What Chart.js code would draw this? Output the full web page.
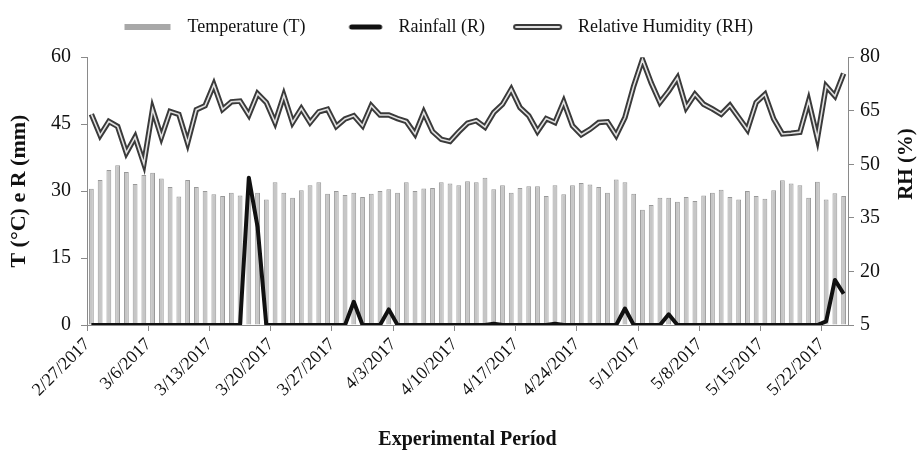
<!DOCTYPE html>
<html>
<head>
<meta charset="utf-8">
<script src="https://cdn.jsdelivr.net/npm/chart.js@4.4.0/dist/chart.umd.min.js"></script>
<style>
    html, body { margin: 0; padding: 0; background: #fff; }
    #wrap { width: 924px; height: 454px; }
</style>
</head>
<body>
<div id="wrap"><canvas id="climateChart" width="924" height="454"></canvas></div>
<script>
// daily categories, 2/27/2017 .. 5/24/2017
const dates = [
    '2/27/2017', '2/28/2017',
    '3/1/2017', '3/2/2017', '3/3/2017', '3/4/2017', '3/5/2017', '3/6/2017', '3/7/2017', '3/8/2017',
    '3/9/2017', '3/10/2017', '3/11/2017', '3/12/2017', '3/13/2017', '3/14/2017', '3/15/2017', '3/16/2017',
    '3/17/2017', '3/18/2017', '3/19/2017', '3/20/2017', '3/21/2017', '3/22/2017', '3/23/2017', '3/24/2017',
    '3/25/2017', '3/26/2017', '3/27/2017', '3/28/2017', '3/29/2017', '3/30/2017', '3/31/2017',
    '4/1/2017', '4/2/2017', '4/3/2017', '4/4/2017', '4/5/2017', '4/6/2017', '4/7/2017', '4/8/2017',
    '4/9/2017', '4/10/2017', '4/11/2017', '4/12/2017', '4/13/2017', '4/14/2017', '4/15/2017', '4/16/2017',
    '4/17/2017', '4/18/2017', '4/19/2017', '4/20/2017', '4/21/2017', '4/22/2017', '4/23/2017', '4/24/2017',
    '4/25/2017', '4/26/2017', '4/27/2017', '4/28/2017', '4/29/2017', '4/30/2017',
    '5/1/2017', '5/2/2017', '5/3/2017', '5/4/2017', '5/5/2017', '5/6/2017', '5/7/2017', '5/8/2017',
    '5/9/2017', '5/10/2017', '5/11/2017', '5/12/2017', '5/13/2017', '5/14/2017', '5/15/2017', '5/16/2017',
    '5/17/2017', '5/18/2017', '5/19/2017', '5/20/2017', '5/21/2017', '5/22/2017', '5/23/2017', '5/24/2017'
];

const temperature = [
    30.5, 32.5, 34.7, 35.8, 34.3, 31.6, 33.6, 34.1, 32.8, 30.9, 28.8, 32.5, 30.9, 30.0, 29.3,
    28.9, 29.6, 29.0, 29.3, 29.6, 28.1, 32.0, 29.6, 28.5, 30.2, 31.3, 32.0, 29.4, 30.0, 29.1,
    29.6, 28.7, 29.4, 30.0, 30.4, 29.6, 32.0, 30.0, 30.6, 30.7, 32.0, 31.7, 31.3, 32.2, 32.0,
    33.0, 30.4, 31.3, 29.6, 30.7, 31.1, 31.1, 28.9, 31.3, 29.3, 31.3, 31.8, 31.5, 30.9, 29.6,
    32.6, 32.0, 29.4, 25.8, 26.9, 28.5, 28.5, 27.6, 28.7, 27.8, 29.0, 29.6, 30.3, 28.7, 28.1,
    30.0, 28.9, 28.3, 30.2, 32.4, 31.7, 31.3, 28.5, 32.1, 28.1, 29.5, 28.9
];

const rainfall = [
    0, 0, 0, 0, 0, 0, 0, 0, 0, 0, 0, 0, 0, 0, 0,
    0, 0, 0, 33, 22, 0, 0, 0, 0, 0, 0, 0, 0, 0, 0,
    5.2, 0, 0, 0, 3.5, 0, 0, 0, 0, 0, 0, 0, 0, 0, 0,
    0, 0.3, 0, 0, 0, 0, 0, 0, 0.3, 0, 0, 0, 0, 0, 0,
    0, 3.7, 0, 0, 0, 0, 2.4, 0, 0, 0, 0, 0, 0, 0, 0,
    0, 0, 0, 0, 0, 0, 0, 0, 0, 0.8, 10.1, 7.0
];

const humidity = [
    64.0, 58.1, 62.0, 60.6, 53.2, 57.6, 50.2, 65.4, 57.6, 64.8, 64.0, 56.0, 65.3, 66.4, 72.3,
    65.4, 67.5, 67.7, 63.8, 69.8, 67.3, 61.7, 69.3, 61.7, 65.6, 61.7, 64.7, 65.4, 60.6, 62.7,
    63.6, 60.8, 66.4, 63.8, 63.8, 62.8, 62.0, 58.5, 64.5, 59.2, 57.0, 56.4, 59.1, 61.5, 62.2,
    60.4, 64.5, 66.8, 71.0, 65.9, 63.6, 59.2, 62.8, 61.7, 67.5, 60.8, 58.3, 59.8, 61.7, 61.9,
    58.1, 63.1, 71.9, 79.3, 72.8, 67.3, 70.5, 74.2, 65.9, 69.6, 66.8, 65.5, 64.0, 66.5, 63.1,
    59.7, 67.3, 69.6, 62.7, 58.5, 58.7, 59.0, 67.7, 57.3, 71.9, 69.1, 75.4
];

const leftTicks = [0, 15, 30, 45, 60];
const rightTicks = [5, 20, 35, 50, 65, 80];
const labelEvery = 7;

const SERIF = '"Liberation Serif", "Times New Roman", serif';

// small canvases used as legend symbols (swatch right-aligned, 8px before the text gap)
const ICON_W = 66;
function makeIcon(draw) {
    const c = document.createElement('canvas');
    c.width = ICON_W;
    c.height = 10;
    draw(c.getContext('2d'));
    return c;
}

function strokeLine(ctx, x1, x2, width, color) {
    ctx.strokeStyle = color;
    ctx.lineWidth = width;
    ctx.lineCap = 'round';
    ctx.beginPath();
    ctx.moveTo(x1, 5);
    ctx.lineTo(x2, 5);
    ctx.stroke();
}

const tempIcon = makeIcon(ctx => {
    ctx.fillStyle = '#a8a8a8';
    ctx.fillRect(ICON_W - 54, 2, 46, 6);
});
const rainIcon = makeIcon(ctx => strokeLine(ctx, ICON_W - 38, ICON_W - 10, 5, '#111'));
const rhIcon = makeIcon(ctx => {
    strokeLine(ctx, ICON_W - 53, ICON_W - 10, 6, '#3a3a3a');
    strokeLine(ctx, ICON_W - 53, ICON_W - 10, 2, '#e0e0e0');
});

// right axis title reads bottom-to-top like the left one
const rightTitle = {
    id: 'rightTitle',
    afterDraw(chart) {
        const ctx = chart.ctx;
        ctx.save();
        ctx.translate(907, 164);
        ctx.rotate(-Math.PI / 2);
        ctx.font = 'bold 21px ' + SERIF;
        ctx.fillStyle = '#111';
        ctx.textAlign = 'center';
        ctx.textBaseline = 'middle';
        ctx.fillText('RH (%)', 0, 0);
        ctx.restore();
    }
};

const axisGrey = '#8a8a8a';

new Chart(document.getElementById('climateChart'), {
    data: {
        labels: dates,
        datasets: [
            {
                type: 'line',
                label: 'RH inner',
                data: humidity,
                yAxisID: 'y1',
                borderColor: '#e2e2e2',
                borderWidth: 1.6,
                pointRadius: 0,
                tension: 0,
                order: 0
            },
            {
                type: 'line',
                label: 'Relative Humidity (RH)',
                data: humidity,
                yAxisID: 'y1',
                borderColor: '#3a3a3a',
                borderWidth: 5.5,
                pointRadius: 0,
                tension: 0,
                order: 1
            },
            {
                type: 'line',
                label: 'Rainfall (R)',
                data: rainfall,
                yAxisID: 'y',
                borderColor: '#111',
                borderWidth: 4,
                borderJoinStyle: 'round',
                pointRadius: 0,
                tension: 0,
                order: 2
            },
            {
                type: 'bar',
                label: 'Temperature (T)',
                data: temperature,
                yAxisID: 'y',
                backgroundColor: '#c6c6c6',
                borderColor: '#999',
                borderWidth: 1,
                barPercentage: 0.55,
                categoryPercentage: 1,
                order: 3
            }
        ]
    },
    options: {
        responsive: false,
        animation: false,
        layout: { padding: 0 },
        plugins: {
            tooltip: { enabled: false },
            // empty title used only as a spacer between legend and plot
            title: {
                display: true,
                text: '',
                weight: 500,
                padding: 0,
                font: { size: 9.3 }
            },
            legend: {
                position: 'top',
                labels: {
                    usePointStyle: true,
                    pointStyleWidth: ICON_W,
                    padding: 18,
                    color: '#111',
                    font: { family: SERIF, size: 18 },
                    generateLabels: () => [
                        { text: 'Temperature (T)', pointStyle: tempIcon, datasetIndex: 3, fontColor: '#111' },
                        { text: 'Rainfall (R)', pointStyle: rainIcon, datasetIndex: 2, fontColor: '#111' },
                        { text: 'Relative Humidity (RH)             ', pointStyle: rhIcon, datasetIndex: 1, fontColor: '#111' }
                    ]
                }
            }
        },
        scales: {
            x: {
                type: 'category',
                offset: true,
                afterFit(scale) { scale.height = 129; },
                grid: {
                    offset: true,
                    drawOnChartArea: false,
                    tickLength: 6,
                    color: ctx => (ctx.index % labelEvery === 0 ? axisGrey : 'rgba(0,0,0,0)')
                },
                border: { color: axisGrey },
                ticks: {
                    autoSkip: false,
                    maxRotation: 45,
                    minRotation: 45,
                    labelOffset: -4,
                    color: '#111',
                    font: { family: SERIF, size: 18 },
                    callback: (value, index) => (index % labelEvery === 0 ? dates[index] : '')
                },
                title: {
                    display: true,
                    text: 'Experimental Períod',
                    color: '#111',
                    font: { family: SERIF, size: 20, weight: 'bold' },
                    padding: { top: 0, bottom: 2 }
                }
            },
            y: {
                position: 'left',
                min: leftTicks[0],
                max: leftTicks[leftTicks.length - 1],
                afterFit(scale) { scale.width = 87; },
                grid: { drawOnChartArea: false, tickLength: 6, color: axisGrey },
                border: { color: axisGrey },
                ticks: {
                    stepSize: leftTicks[1] - leftTicks[0],
                    color: '#111',
                    padding: 10,
                    font: { family: SERIF, size: 20 }
                },
                title: {
                    display: true,
                    text: 'T (°C) e R (mm)',
                    color: '#111',
                    font: { family: SERIF, size: 22, weight: 'bold' },
                    padding: { top: 6, bottom: 0 }
                }
            },
            y1: {
                position: 'right',
                min: rightTicks[0],
                max: rightTicks[rightTicks.length - 1],
                afterFit(scale) { scale.width = 76; },
                grid: { drawOnChartArea: false, tickLength: 6, color: axisGrey },
                border: { color: axisGrey },
                ticks: {
                    stepSize: rightTicks[1] - rightTicks[0],
                    color: '#111',
                    padding: 6,
                    font: { family: SERIF, size: 20 }
                }
            }
        }
    },
    plugins: [rightTitle]
});
</script>
</body>
</html>
